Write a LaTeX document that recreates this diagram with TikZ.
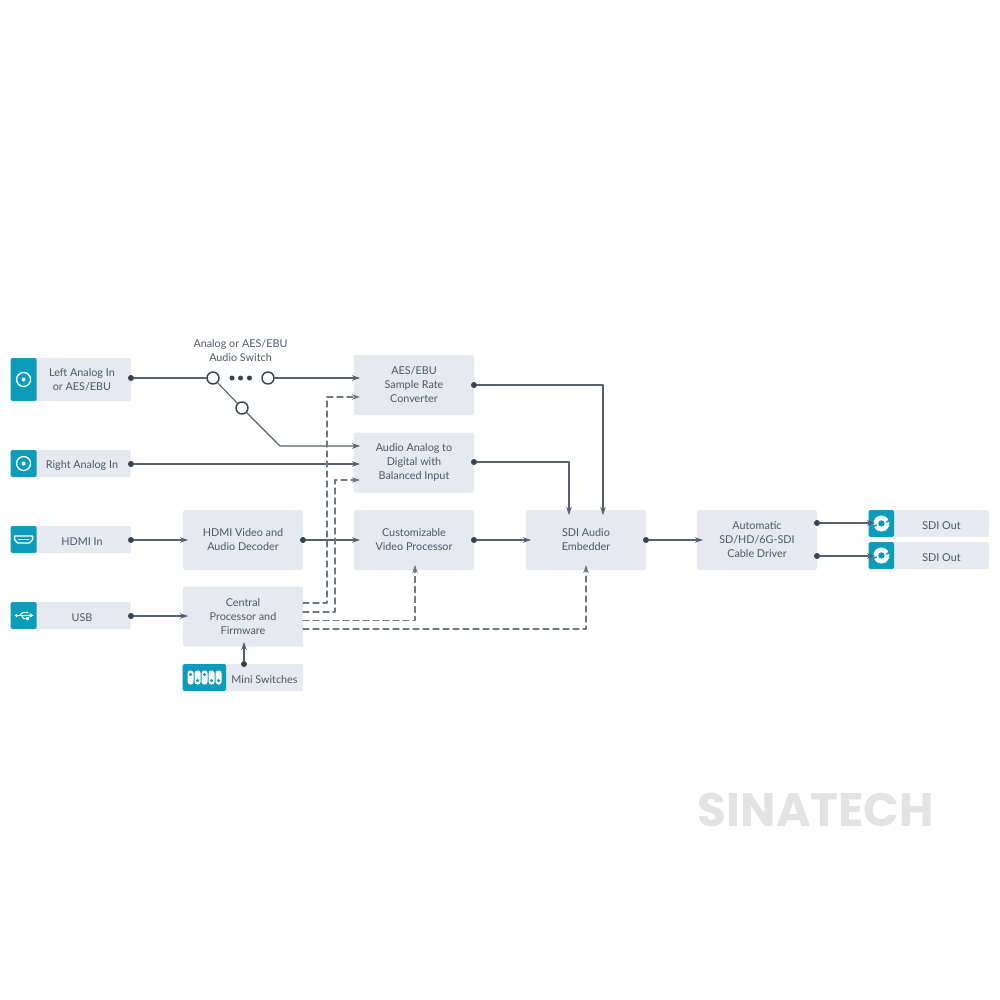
\documentclass[tikz,border=0pt]{standalone}
\usepackage{fontspec}
\usepackage{tikz}
\usetikzlibrary{arrows.meta,calc,positioning}
\setmainfont{Lato}
\newfontfamily\markfont{Poppins}
\definecolor{boxgrey}{HTML}{E6E9EF}
\definecolor{tabteal}{HTML}{0A9CBA}
\definecolor{inkgrey}{HTML}{4C5864}
\definecolor{wiregrey}{HTML}{55626E}
\definecolor{ctlgrey}{HTML}{6D7883}
\definecolor{dotgrey}{HTML}{34434F}
\tikzset{
  every picture/.append style={line cap=round,line join=round},
  sig box/.style={fill=boxgrey,rounded corners=2pt,inner sep=0pt,text=inkgrey,align=center,
    font=\fontsize{10.8}{14}\selectfont,minimum width=120pt,minimum height=60pt,
    execute at begin node={\rule{0pt}{12pt}}},
  port box/.style={sig box,minimum width=98pt,minimum height=27pt},
  port tab/.style={fill=tabteal,rounded corners=1.5pt,inner sep=0pt,minimum width=26pt,minimum height=27pt},
  sig tap/.style={circle,fill=dotgrey,inner sep=0pt,minimum size=6pt},
  sig wire/.style={wiregrey,line width=1.1pt},
  sig arrow/.style={sig wire,-{Stealth[length=8pt,width=5.5pt]}},
  ctl arrow/.style={sig arrow,ctlgrey,line width=1.2pt,dash pattern=on 6pt off 4pt},
  sw ring/.style={circle,draw=dotgrey,fill=white,line width=1.4pt,inner sep=0pt,minimum size=12pt},
  sw dot/.style={circle,fill=dotgrey,inner sep=0pt,minimum size=5pt},
  sw note/.style={text=inkgrey,align=center,font=\fontsize{10.8}{14}\selectfont},
  icon line/.style={white,line width=1.3pt}
}
\begin{document}
\begin{tikzpicture}[x=1pt,y=-1pt]
  \useasboundingbox (0,0) rectangle (1000,1000);
  % inputs
  \node[port box,minimum height=43pt] (leftin) at (82,379.5) {Left Analog In\\or AES/EBU};
  \node[port box] (rightin) at (82,463.5) {Right Analog In};
  \node[port box] (hdmiin) at (82,539.5) {HDMI In};
  \node[port box] (usbin) at (82,615.5) {USB};
  \node[port tab,minimum height=43pt,left=-4pt of leftin] (lefttab) {};
  \node[port tab,left=-4pt of rightin] (righttab) {};
  \node[port tab,left=-4pt of hdmiin] (hdmitab) {};
  \node[port tab,left=-4pt of usbin] (usbtab) {};
  % processing blocks
  \node[sig box] (decoder) at (243,540) {HDMI Video and\\Audio Decoder};
  \node[sig box] (central) at (243,616.5) {Central\\Processor and\\Firmware};
  \node[sig box] (aes) at (414,385) {AES/EBU\\Sample Rate\\Converter};
  \node[sig box] (adc) at (414,462.5) {Audio Analog to\\Digital with\\Balanced Input};
  \node[sig box] (video) at (414,540) {Customizable\\Video Processor};
  \node[sig box] (embedder) at (586,540) {SDI Audio\\Embedder};
  \node[sig box] (driver) at (757,540) {Automatic\\SD/HD/6G-SDI\\Cable Driver};
  \node[port box,minimum width=77pt] (mini) at (264.5,677.5) {Mini Switches};
  \node[port tab,minimum width=43.5pt,left=-0.5pt of mini] (minitab) {};
  % outputs
  \node[port box,minimum width=95pt] (sdia) at (941.5,523.5) {SDI Out};
  \node[port box,minimum width=95pt] (sdib) at (941.5,555.5) {SDI Out};
  \node[port tab,minimum width=25.5pt,left=-0.5pt of sdia] (sdiatab) {};
  \node[port tab,minimum width=25.5pt,left=-0.5pt of sdib] (sdibtab) {};
  % icons
  \foreach \t in {lefttab,righttab}{
    \draw[icon line] (\t.center) circle (7);
    \fill[white] (\t.center) circle (2);
  }
  \begin{scope}[shift={(hdmitab.center)}]
    \draw[icon line] (-9,-3.5) -- (9,-3.5) -- (9,0) -- (6,3.5) -- (-6,3.5) -- (-9,0) -- cycle;
    \draw[icon line] (-5,0) -- (5,0);
  \end{scope}
  \begin{scope}[shift={(usbtab.center)}]
    \draw[white,line width=1pt] (-7,0) -- (7,0);
    \draw[white,line width=1pt] (-4,0) -- (-1,-3) -- (2,-3);
    \draw[white,line width=1pt] (-2,0) -- (0,3) -- (3,3);
    \fill[white] (-7,0) circle (1.8);
    \fill[white] (10,0) -- (6,-2.2) -- (6,2.2) -- cycle;
    \fill[white] (3.5,-3) circle (1.2);
    \fill[white] (2.5,1.8) rectangle (4.9,4.2);
  \end{scope}
  \foreach \i/\k in {0/-3,1/3,2/-3,3/3,4/3}{
    \fill[white,rounded corners=2.6pt] ($(minitab.center)+(\i*7-16.8,-7)$) rectangle +(6,14);
    \fill[tabteal] ($(minitab.center)+(\i*7-13.8,\k)$) circle (1.7);
  }
  \foreach \t in {sdiatab,sdibtab}{
    \fill[white] (\t.center) circle (8);
    \fill[tabteal] (\t.center) circle (3.2);
    \draw[tabteal,line width=1.6pt] ($(\t.center)+(5,-1.5)$) -- +(5,-2.5);
    \draw[tabteal,line width=1.6pt] ($(\t.center)+(-5,1.5)$) -- +(-5,2.5);
  }
  % audio switch
  \node[sw note] (swnote) at (240.5,350.5) {Analog or AES/EBU\\Audio Switch};
  \node[sw ring] (swa) at (213,378) {};
  \node[sw ring] (swb) at (268,378) {};
  \node[sw ring] (swc) at (242,408) {};
  \foreach \x in {232,240.5,249.5}{
    \node[sw dot] at (\x,378) {};
  }
  % tap points
  \node[sig tap] (lefttap) at (131,378) {};
  \node[sig tap] (righttap) at (131,464) {};
  \node[sig tap] (hdmitap) at (131,540) {};
  \node[sig tap] (usbtap) at (131,616) {};
  \node[sig tap] (dectap) at (303,540) {};
  \node[sig tap] (aestap) at (474,385) {};
  \node[sig tap] (adctap) at (474,462) {};
  \node[sig tap] (videotap) at (474,540) {};
  \node[sig tap] (embtap) at (646,540) {};
  \node[sig tap] (drvtapa) at (817,523) {};
  \node[sig tap] (drvtapb) at (817,556) {};
  \node[sig tap] (minitap) at (244,664) {};
  % free ends and bends
  \coordinate (aesin) at (360,378);
  \coordinate (aesctl) at (360,397);
  \coordinate (adcina) at (360,446);
  \coordinate (adcinb) at (360,464);
  \coordinate (adcctl) at (360,480);
  \coordinate (swbend) at (280,446);
  \coordinate (decin) at (188,540);
  \coordinate (videoin) at (360,540);
  \coordinate (embin) at (531,540);
  \coordinate (drvin) at (703,540);
  \coordinate (cpuin) at (188,616);
  \coordinate (cpuup) at (244,642);
  \coordinate (emba) at (569,515);
  \coordinate (embb) at (603,515);
  \coordinate (sdiain) at (875,523);
  \coordinate (sdibin) at (875,556);
  \coordinate (cpua) at (303,603);
  \coordinate (cpub) at (303,612);
  \coordinate (cpuc) at (303,620.5);
  \coordinate (cpud) at (303,629);
  \coordinate (videoctl) at (415,565);
  \coordinate (embctl) at (586,565);
  % audio paths
  \draw[sig wire] (lefttap) -- (swa);
  \draw[sig arrow] (swb) -- (aesin);
  \draw[sig wire] (swa) -- (swc);
  \draw[sig arrow] (swc) -- (swbend) -- (adcina);
  \draw[sig arrow] (righttap) -- (adcinb);
  \draw[sig arrow] (aestap) -| (embb);
  \draw[sig arrow] (adctap) -| (emba);
  % video paths
  \draw[sig arrow] (hdmitap) -- (decin);
  \draw[sig arrow] (dectap) -- (videoin);
  \draw[sig arrow] (videotap) -- (embin);
  \draw[sig arrow] (embtap) -- (drvin);
  \draw[sig arrow] (drvtapa) -- (sdiain);
  \draw[sig arrow] (drvtapb) -- (sdibin);
  \draw[sig arrow] (usbtap) -- (cpuin);
  \draw[sig arrow] (minitap) -- (cpuup);
  % control paths
  \draw[ctl arrow] (cpua) -- ++(24,0) |- (aesctl);
  \draw[ctl arrow] (cpub) -- ++(32,0) |- (adcctl);
  \draw[ctl arrow] (cpuc) -| (videoctl);
  \draw[ctl arrow] (cpud) -| (embctl);
  % watermark
  \node[text=black!11,inner sep=0pt,font=\markfont\bfseries\fontsize{47}{47}\selectfont] (mark) at (816,810) {SINATECH};
\end{tikzpicture}
\end{document}
